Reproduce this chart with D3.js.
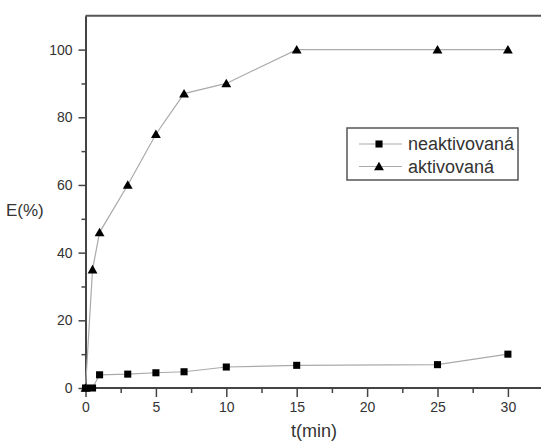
<html lang="en">
<head>
    <meta charset="UTF-8">
    <title>E(%) vs t(min)</title>
    <style>
        body { margin: 0; background: #fff; }
        text { font-family: "Liberation Sans", Arial, sans-serif; fill: #333; }
    </style>
</head>
<body>
    <div id="graph"></div>
    <script src="https://d3js.org/d3.v7.min.js"></script>
    <script>
        // data
        var times = [0, 0.5, 1, 3, 5, 7, 10, 15, 25, 30];
        var neaktivovana = [0, 0, 3.9, 4.1, 4.5, 4.8, 6.2, 6.7, 6.9, 10];
        var aktivovana = [0, 35, 46, 60, 75, 87, 90, 100, 100, 100];
        var xTicks = [0, 5, 10, 15, 20, 25, 30];
        var yTicks = [0, 20, 40, 60, 80, 100];
        var seriesNames = ["neaktivovaná", "aktivovaná"];

        var width = 541, height = 443;
        var left = 85.5, top = 16, bottom = 388;

        var x = d3.scaleLinear().domain([0, 33]).range([left, left + 33 * 14.08]);
        var y = d3.scaleLinear().domain([0, 110]).range([bottom, bottom - 110 * 3.384]);

        var svg = d3.select("#graph").append("svg")
            .attr("width", width)
            .attr("height", height);

        // top frame line
        svg.append("line")
            .attr("x1", left).attr("x2", width)
            .attr("y1", y(110)).attr("y2", y(110))
            .attr("stroke", "#555").attr("stroke-width", 2);

        // x axis
        var xAxis = svg.append("g")
            .attr("transform", "translate(0," + bottom + ")")
            .call(d3.axisBottom(x).tickValues(xTicks).tickSize(9).tickPadding(5).tickSizeOuter(0));
        svg.append("g")
            .attr("transform", "translate(0," + bottom + ")")
            .call(d3.axisBottom(x).tickValues([2.5, 7.5, 12.5, 17.5, 22.5, 27.5, 32.5]).tickSize(5).tickFormat("").tickSizeOuter(0))
            .select(".domain").remove();

        // y axis
        var yAxis = svg.append("g")
            .attr("transform", "translate(" + left + ",0)")
            .call(d3.axisLeft(y).tickValues(yTicks).tickSize(7).tickPadding(6).tickSizeOuter(0));
        svg.append("g")
            .attr("transform", "translate(" + left + ",0)")
            .call(d3.axisLeft(y).tickValues([10, 30, 50, 70, 90]).tickSize(4).tickFormat("").tickSizeOuter(0))
            .select(".domain").remove();

        svg.selectAll(".domain").attr("stroke", "#444").attr("stroke-width", 2);
        svg.selectAll(".tick line").attr("stroke", "#444").attr("stroke-width", 1.5);
        svg.selectAll(".tick text").style("font-size", "14px").attr("fill", "#333");
        xAxis.select(".domain").attr("d", "M" + left + ",0H" + width);

        // axis titles
        svg.append("text")
            .attr("x", 314).attr("y", 437)
            .attr("text-anchor", "middle")
            .style("font-size", "18px")
            .text("t(min)");
        svg.append("text")
            .attr("x", 6).attr("y", 216)
            .style("font-size", "17px")
            .text("E(%)");

        // lines and markers
        var line = d3.line()
            .x(function(d, i) { return x(times[i]); })
            .y(function(d) { return y(d); });

        function marker(k) {
            return d3.symbol().type(k === 0 ? d3.symbolSquare : d3.symbolTriangle).size(k === 0 ? 50 : 42);
        }

        [neaktivovana, aktivovana].forEach(function(s, k) {
            svg.append("path")
                .attr("d", line(s))
                .attr("fill", "none")
                .attr("stroke", "#aaa")
                .attr("stroke-width", 1.2);
            svg.selectAll(".m" + k)
                .data(s)
                .enter().append("path")
                .attr("class", "m" + k)
                .attr("d", marker(k))
                .attr("transform", function(d, i) {
                    return "translate(" + x(times[i]) + "," + (y(d) + (k === 1 ? 1 : 0)) + ")";
                })
                .attr("fill", "#000");
        });

        // legend
        var lg = svg.append("g").attr("transform", "translate(347,128)");
        lg.append("rect")
            .attr("width", 171).attr("height", 52)
            .attr("fill", "#fff").attr("stroke", "#555").attr("stroke-width", 1.5);
        seriesNames.forEach(function(name, k) {
            var cy = 16 + k * 22.5;
            lg.append("line")
                .attr("x1", 12).attr("x2", 55).attr("y1", cy).attr("y2", cy)
                .attr("stroke", "#aaa").attr("stroke-width", 1.2);
            lg.append("path")
                .attr("d", marker(k))
                .attr("transform", "translate(32," + (cy + (k === 1 ? 1 : 0)) + ")")
                .attr("fill", "#000");
            lg.append("text")
                .attr("x", 61).attr("y", cy + 6)
                .style("font-size", "18px")
                .text(name);
        });
    </script>
</body>
</html>
